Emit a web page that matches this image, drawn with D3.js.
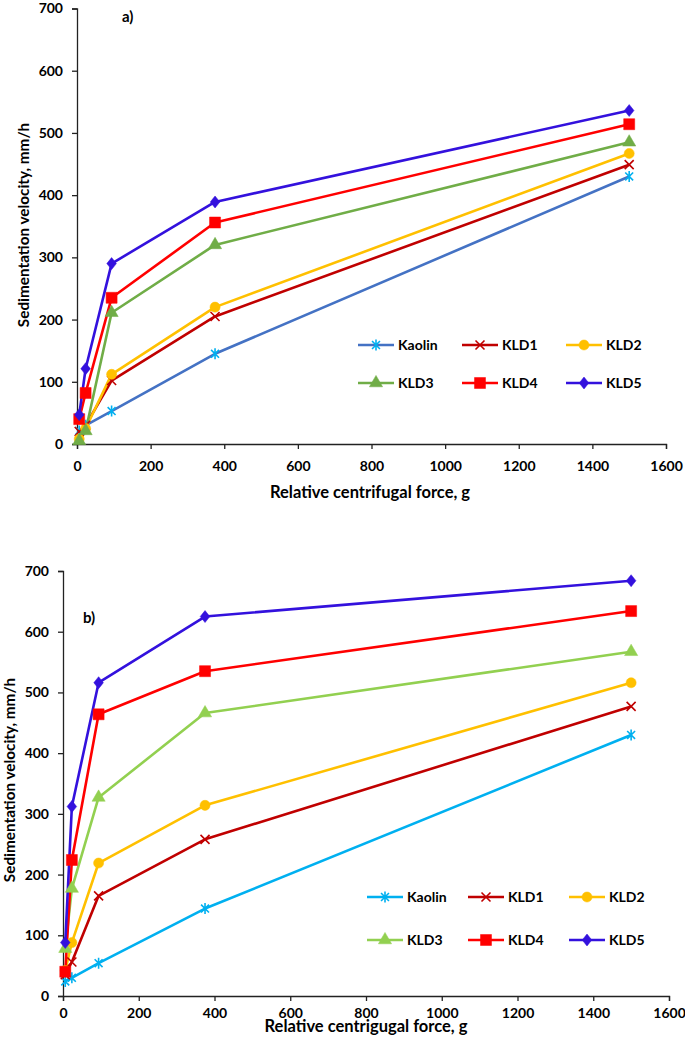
<!DOCTYPE html>
<html><head><meta charset="utf-8">
<script src="https://cdn.jsdelivr.net/npm/d3@7"></script>
<style>
body{margin:0;background:#fff;}
text{font-family:Lato,"Open Sans",sans-serif;font-weight:bold;fill:#000;}
</style></head>
<body><svg id="c" width="685" height="1037"></svg>
<script>
// ---------- data ----------
const rcf = [6, 23.4, 94, 375, 1500];
const seriesNames = ["Kaolin","KLD1","KLD2","KLD3","KLD4","KLD5"];
const xTicks = [0,200,400,600,800,1000,1200,1400,1600];
const yTicks = [0,100,200,300,400,500,600,700];

// panel a)
const aKaolin = [21, 30, 53, 145, 430];
const aKLD1   = [20, 30, 102, 205, 449];
const aKLD2   = [8, 25, 112, 220, 467];
const aKLD3   = [5, 21, 211, 320, 485];
const aKLD4   = [40, 82, 235, 356, 514];
const aKLD5   = [47, 121, 290, 389, 536];

// panel b)
const bKaolin = [24, 30, 54, 144, 430];
const bKLD1   = [35, 56, 165, 258, 477];
const bKLD2   = [42, 88, 219, 314, 516];
const bKLD3   = [78, 177, 327, 466, 567];
const bKLD4   = [40, 224, 464, 535, 634];
const bKLD5   = [88, 312, 516, 625, 684];

const aColors = {line:["#4472C4","#C00000","#FFC000","#70AD47","#FF0000","#3311DD"],
                 mark:["#00B0F0","#C00000","#FFC000","#70AD47","#FF0000","#3311DD"]};
const bColors = {line:["#00B0F0","#C00000","#FFC000","#92D050","#FF0000","#3311DD"],
                 mark:["#00B0F0","#C00000","#FFC000","#92D050","#FF0000","#3311DD"]};
const markers = ["star","x","circle","triangle","square","diamond"];

const svg = d3.select("#c");

function markerPath(type){
  if(type==="star"){const r=5.5;const d=r*0.72;return `M${-d},${-d}L${d},${d}M${-d},${d}L${d},${-d}M0,${-r}L0,${r}`;}
  if(type==="x"){const d=4.5;return `M${-d},${-d}L${d},${d}M${-d},${d}L${d},${-d}`;}
  if(type==="circle") return d3.symbol(d3.symbolCircle,80)();
  if(type==="triangle") return d3.symbol(d3.symbolTriangle,75)();
  if(type==="square") return "M-5.5,-5.5H5.5V5.5H-5.5Z";
  if(type==="diamond") return "M0,-6L4.8,0L0,6L-4.8,0Z";
}
function drawMarker(g, type, color, x, y){
  const stroked = (type==="star"||type==="x");
  g.append("path").attr("d", markerPath(type)).attr("transform",`translate(${x},${y})`)
    .attr("fill", stroked?"none":color).attr("stroke", color)
    .attr("stroke-width", stroked?1.6:0.5);
}

function panel(cfg){
  const x = d3.scaleLinear().domain([0,1600]).range([cfg.x0,cfg.x1]);
  const y = d3.scaleLinear().domain([0,700]).range([cfg.y0,cfg.y1]);
  const g = svg.append("g");
  const xa = g.append("g").attr("transform",`translate(0,${cfg.y0})`)
    .call(d3.axisBottom(x).tickValues(xTicks).tickFormat(d3.format("d")).tickSize(5).tickPadding(cfg.xPad));
  const ya = g.append("g").attr("transform",`translate(${cfg.x0},0)`)
    .call(d3.axisLeft(y).tickValues(yTicks).tickFormat(d3.format("d")).tickSize(5).tickPadding(cfg.yPad));
  [xa,ya].forEach(a=>{a.selectAll("path,line").attr("stroke","#222").attr("stroke-width",1.3);
    a.selectAll("text").style("font-size","14px").style("font-family","Lato").style("font-weight","bold").attr("fill","#000");});
  // lines
  const line = d3.line().x((d,i)=>x(rcf[i])).y(d=>y(d));
  cfg.data.forEach((vals,k)=>{
    g.append("path").datum(vals).attr("d",line).attr("fill","none")
      .attr("stroke",cfg.colors.line[k]).attr("stroke-width",2.6).attr("stroke-linejoin","round");
  });
  cfg.data.forEach((vals,k)=>{
    vals.forEach((v,i)=>drawMarker(g, markers[k], cfg.colors.mark[k], x(rcf[i]), y(v)));
  });
  // titles
  g.append("text").attr("x",cfg.xtX).attr("y",cfg.xtY).attr("text-anchor","middle")
    .style("font-size","16.5px").text(cfg.xTitle);
  g.append("text").attr("transform",`translate(${cfg.ytX},${cfg.ytY}) rotate(-90)`).attr("text-anchor","middle")
    .style("font-size","15.3px").text("Sedimentation velocity, mm/h");
  g.append("text").attr("x",cfg.lblX).attr("y",cfg.lblY).style("font-size","15px").text(cfg.label);
  // legend
  seriesNames.forEach((n,k)=>{
    const col = k%3, row = Math.floor(k/3);
    const lx = cfg.legX + col*cfg.legDX, ly = cfg.legY + row*cfg.legDY;
    g.append("line").attr("x1",lx).attr("x2",lx+36).attr("y1",ly).attr("y2",ly)
      .attr("stroke",cfg.colors.line[k]).attr("stroke-width",2.6);
    drawMarker(g, markers[k], cfg.colors.mark[k], lx+18, ly);
    g.append("text").attr("x",lx+40).attr("y",ly+5).style("font-size","14px").text(n);
  });
}

panel({x0:77,x1:666,y0:444,y1:8.5,xPad:12,yPad:9,
  data:[aKaolin,aKLD1,aKLD2,aKLD3,aKLD4,aKLD5], colors:aColors,
  xTitle:"Relative centrifugal force, g", xtX:370, xtY:498, ytX:29, ytY:225,
  label:"a)", lblX:122, lblY:22,
  legX:358, legY:345, legDX:104, legDY:38});

panel({x0:63,x1:669,y0:996,y1:571,xPad:7,yPad:9,
  data:[bKaolin,bKLD1,bKLD2,bKLD3,bKLD4,bKLD5], colors:bColors,
  xTitle:"Relative centrigugal force, g", xtX:366, xtY:1032, ytX:15, ytY:780,
  label:"b)", lblX:83, lblY:623,
  legX:367, legY:897, legDX:101, legDY:43});
</script></body></html>
